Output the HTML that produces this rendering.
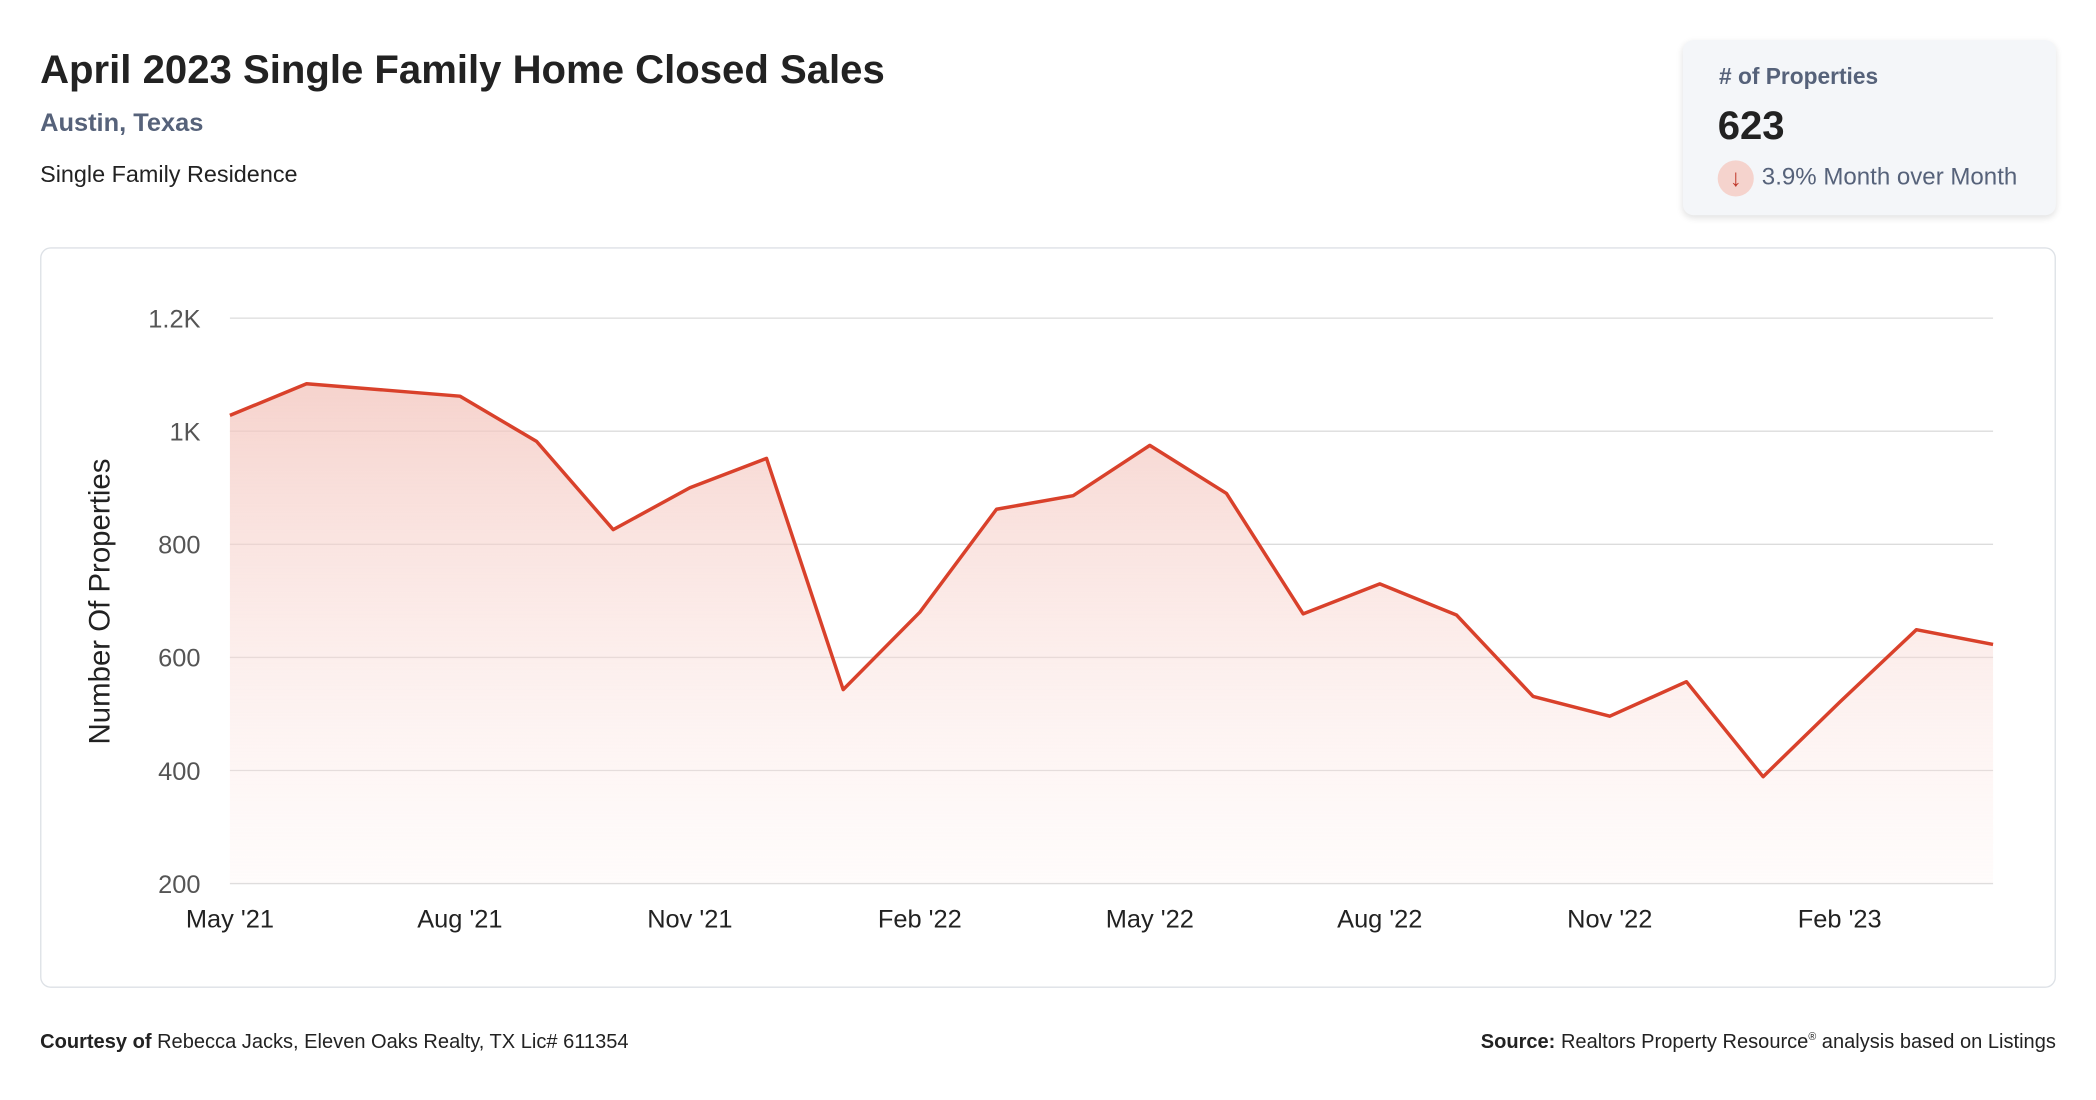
<!DOCTYPE html>
<html><head><meta charset="utf-8"><style>
html,body{margin:0;padding:0;background:#fff;width:2096px;height:1100px;overflow:hidden;font-family:"Liberation Sans",sans-serif}
#wrap{position:absolute;left:0;top:0;width:1568px;height:823px;transform:scale(1.33673);transform-origin:0 0}
.abs{position:absolute;white-space:nowrap}
</style></head><body>
<div id="wrap">
<div class="abs" style="left:30px;top:36px;font-size:30px;font-weight:bold;color:#222">April 2023 Single Family Home Closed Sales</div>
<div class="abs" style="left:30px;top:82px;font-size:19px;font-weight:bold;color:#56627a">Austin, Texas</div>
<div class="abs" style="left:30px;top:120px;font-size:17.5px;color:#222">Single Family Residence</div>
<div class="abs" style="left:1259px;top:30px;width:279px;height:131px;background:#f4f6f9;border-radius:8px;box-shadow:0 2px 5px rgba(0,0,0,0.12)">
 <div class="abs" style="left:27px;top:18px;font-size:17px;font-weight:bold;color:#56627a"># of Properties</div>
 <div class="abs" style="left:26px;top:48px;font-size:30px;font-weight:bold;color:#222">623</div>
 <div class="abs" style="left:26px;top:90px;width:27px;height:27px;border-radius:50%;background:#f5d3cd;color:#c0392b;font-size:18px;text-align:center;line-height:27px">↓</div>
 <div class="abs" style="left:59px;top:92px;font-size:18px;color:#56627a">3.9% Month over Month</div>
</div>
<div class="abs" style="left:30px;top:185px;width:1506px;height:552px;border:1px solid #dde1e6;border-radius:8px"></div>
<svg id="chart" class="abs" style="left:0;top:0" width="1568" height="823">
<defs><linearGradient id="g" x1="0" y1="0" x2="0" y2="1"><stop offset="0" stop-color="#f3c4bc" stop-opacity="0.75"/><stop offset="1" stop-color="#fde8e5" stop-opacity="0.15"/></linearGradient></defs>
<text transform="translate(82,450) rotate(-90)" text-anchor="middle" font-size="22" fill="#222" font-family="Liberation Sans, sans-serif">Number Of Properties</text>
</svg>
<div class="abs" style="left:30px;top:771px;font-size:15px;color:#222"><b>Courtesy of</b> Rebecca Jacks, Eleven Oaks Realty, TX Lic# 611354</div>
<div class="abs" style="right:30px;top:771px;font-size:15px;color:#222"><b>Source:</b> Realtors Property Resource<sup style="font-size:8px">®</sup> analysis based on Listings</div>
</div>
<script>
const months=["May '21","Jun '21","Jul '21","Aug '21","Sep '21","Oct '21","Nov '21","Dec '21","Jan '22","Feb '22","Mar '22","Apr '22","May '22","Jun '22","Jul '22","Aug '22","Sep '22","Oct '22","Nov '22","Dec '22","Jan '23","Feb '23","Mar '23","Apr '23"];
const sales=[1028,1084,1073,1062,982,826,900,952,543,680,862,886,975,890,677,730,675,531,496,557,389,521,649,623];
const yTicks=[200,400,600,800,1000,1200];
const yTickLabels=["200","400","600","800","1K","1.2K"];
const xTickIdx=[0,3,6,9,12,15,18,21];
const svg=document.getElementById('chart');
const NS='http://www.w3.org/2000/svg';
const X0=172,X1=1491,Y0=661,Y1=238;
const x=i=>X0+(X1-X0)*i/(months.length-1);
const y=v=>Y0-(v-200)/(1200-200)*(Y0-Y1);
function mk(t,a){const e=document.createElementNS(NS,t);for(const k in a)e.setAttribute(k,a[k]);svg.appendChild(e);return e;}
yTicks.forEach((v,i)=>{
 const l=mk('line',{x1:X0,x2:X1,y1:y(v),y2:y(v),stroke:'#dcdcdc','stroke-width':1});
 
 
 const t=mk('text',{x:150,y:y(v)+7,'text-anchor':'end','font-size':19,fill:'#555','font-family':'Liberation Sans, sans-serif'});
 t.textContent=yTickLabels[i];
 
 
});
xTickIdx.forEach(i=>{
 const t=mk('text',{x:x(i),y:694,'text-anchor':'middle','font-size':19,fill:'#222','font-family':'Liberation Sans, sans-serif'});
 t.textContent=months[i];
 
 
});
let d=sales.map((v,i)=>(i?'L':'M')+x(i)+','+y(v)).join(' ');
const area=mk('path',{d:d+' L'+x(sales.length-1)+','+Y0+' L'+X0+','+Y0+' Z',fill:'url(#g)'});


const line=mk('path',{d:d,fill:'none',stroke:'#d9412b','stroke-width':2.6,'stroke-linejoin':'round'});


</script>
</body></html>
